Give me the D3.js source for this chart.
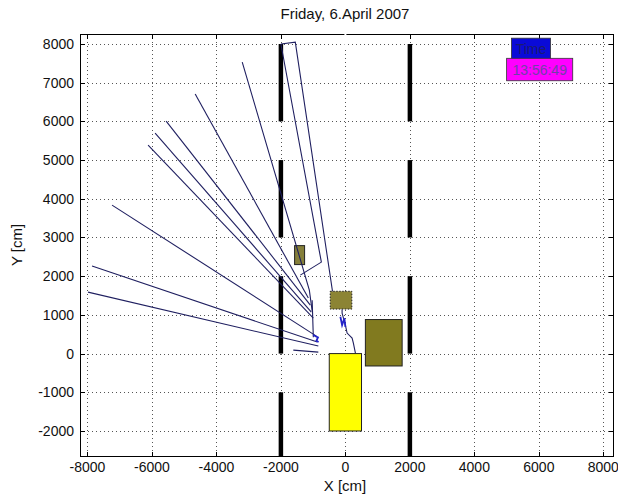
<!DOCTYPE html>
<html>
<head>
<meta charset="utf-8">
<script src="https://cdn.jsdelivr.net/npm/d3@7"></script>
<style>
  body { margin: 0; background: #fff; }
  svg { font-family: "Liberation Sans", Arial, sans-serif; }
</style>
</head>
<body>
<svg id="visualisation" width="618" height="498"></svg>
<script>
// tick values and labels
var xTicks = [-8000, -6000, -4000, -2000, 0, 2000, 4000, 6000, 8000];
var yTicks = [-2000, -1000, 0, 1000, 2000, 3000, 4000, 5000, 6000, 7000, 8000];
var titleText = "Friday, 6.April 2007";
var xLabel = "X [cm]";
var yLabel = "Y [cm]";
var timeLabel = "Time";
var clockLabel = "13:56:49";

// lane markers: x positions and dashed segments [yStart, yEnd]
var laneX = [-2000, 2000];
var laneSegments = [[8000, 6000], [5000, 3000], [2000, 0], [-1000, -3000]];

// obstacles [x0, x1, y0, y1]
var yellowBox = [-500, 500, -2000, 0];
var oliveBig = [620, 1760, -320, 880];
var oliveDotted = [-470, 200, 1150, 1610];
var oliveSmall = [-1575, -1265, 2300, 2790];

// annotation boxes [x0, x1, y0, y1]
var timeBox = [5150, 6360, 7600, 8150];
var clockBox = [5000, 7050, 7050, 7630];

// tracks (dark lines)
var fanTracks = [
  [[-7981, 1589], [-839, 194]],
  [[-7857, 2261], [-870, 297]],
  [[-7236, 3837], [-900, 452]],
  [[-6118, 5388], [-994, 917]],
  [[-5901, 5698], [-1056, 1072]],
  [[-5559, 6008], [-1087, 1253]],
  [[-4658, 6705], [-1149, 1434]],
  [[-3199, 7532], [-1118, 1641], [-1030, 1100]],
  [[-1030, 1376], [-994, 420]],
  [[-2000, 8000], [-1553, 8049], [-400, 1610]],
  [[-2000, 8000], [-745, 2364], [-1398, 2028]],
  [[-102, 1142], [-102, 1047], [0, 736], [53, 530], [208, 401], [248, 271], [311, 13]],
  [[-1615, 90], [-839, 39]]
];
// brighter blue fragments
var blueTracks = [
  [[-155, 951], [-102, 736], [-31, 910], [0, 693]],
  [[-1000, 480], [-850, 420], [-900, 330], [-830, 300]]
];
// white marker crossing the top edge
var whiteMarker = [[0, 7850], [0, 8600]];

var vis = d3.select("#visualisation"),
    LEFT = 80, RIGHT = 614, TOP = 34, BOTTOM = 457;

var xScale = d3.scaleLinear().domain([-8230, 8330]).range([LEFT, RIGHT]);
var yScale = d3.scaleLinear().domain([-2672, 8258]).range([BOTTOM, TOP]);

vis.append("rect").attr("x", 0).attr("y", 0).attr("width", 618).attr("height", 498).attr("fill", "#fff");
vis.append("rect").attr("x", LEFT).attr("y", TOP).attr("width", RIGHT - LEFT).attr("height", BOTTOM - TOP).attr("fill", "#fff");

vis.append("clipPath").attr("id", "plotclip")
  .append("rect").attr("x", LEFT).attr("y", TOP).attr("width", RIGHT - LEFT).attr("height", BOTTOM - TOP);

// dotted grid
var grid = vis.append("g").attr("stroke", "#555").attr("stroke-width", 1).attr("stroke-dasharray", "1,3");
grid.selectAll(".gx").data(xTicks).enter().append("line")
  .attr("x1", function(d) { return Math.round(xScale(d)) + 0.5; })
  .attr("x2", function(d) { return Math.round(xScale(d)) + 0.5; })
  .attr("y1", TOP).attr("y2", BOTTOM);
grid.selectAll(".gy").data(yTicks).enter().append("line")
  .attr("y1", function(d) { return Math.round(yScale(d)) + 0.5; })
  .attr("y2", function(d) { return Math.round(yScale(d)) + 0.5; })
  .attr("x1", LEFT).attr("x2", RIGHT);

var plot = vis.append("g").attr("clip-path", "url(#plotclip)");

// lane markers
laneX.forEach(function(lx) {
  plot.selectAll(null).data(laneSegments).enter().append("line")
    .attr("x1", xScale(lx)).attr("x2", xScale(lx))
    .attr("y1", function(d) { return yScale(d[0]); })
    .attr("y2", function(d) { return yScale(d[1]); })
    .attr("stroke", "#000").attr("stroke-width", 4.5);
});

function boxRect(b, fill, dash) {
  plot.append("rect")
    .attr("x", xScale(b[0])).attr("y", yScale(b[3]))
    .attr("width", xScale(b[1]) - xScale(b[0]))
    .attr("height", yScale(b[2]) - yScale(b[3]))
    .attr("fill", fill).attr("stroke", "#222").attr("stroke-width", 1)
    .attr("stroke-dasharray", dash || null);
}
boxRect(yellowBox, "#ffff00");
boxRect(oliveBig, "#817a1f");
boxRect(oliveDotted, "#8c8434", "1.5,1.5");
boxRect(oliveSmall, "#857f3a");

var line = d3.line().x(function(d) { return xScale(d[0]); }).y(function(d) { return yScale(d[1]); });

plot.selectAll(".track").data(fanTracks).enter().append("path")
  .attr("d", line).attr("fill", "none")
  .attr("stroke", "#1f1f60").attr("stroke-width", 1.1);

plot.selectAll(".btrack").data(blueTracks).enter().append("path")
  .attr("d", line).attr("fill", "none")
  .attr("stroke", "#2323c8").attr("stroke-width", 1.8);

// axes box and inward ticks
var axes = vis.append("g").attr("stroke", "#000").attr("stroke-width", 1);
axes.append("rect").attr("x", LEFT + 0.5).attr("y", TOP + 0.5)
  .attr("width", RIGHT - LEFT - 1).attr("height", BOTTOM - TOP - 1).attr("fill", "none");
xTicks.forEach(function(t) {
  var px = Math.round(xScale(t)) + 0.5;
  axes.append("line").attr("x1", px).attr("x2", px).attr("y1", BOTTOM).attr("y2", BOTTOM - 5);
  axes.append("line").attr("x1", px).attr("x2", px).attr("y1", TOP).attr("y2", TOP + 5);
});
yTicks.forEach(function(t) {
  var py = Math.round(yScale(t)) + 0.5;
  axes.append("line").attr("y1", py).attr("y2", py).attr("x1", LEFT).attr("x2", LEFT + 5);
  axes.append("line").attr("y1", py).attr("y2", py).attr("x1", RIGHT).attr("x2", RIGHT - 5);
});

vis.append("path").datum(whiteMarker).attr("d", line)
  .attr("stroke", "#fff").attr("stroke-width", 2).attr("fill", "none");

// tick labels
vis.selectAll(".xl").data(xTicks).enter().append("text")
  .attr("x", function(d) { return xScale(d); }).attr("y", 472)
  .attr("text-anchor", "middle").attr("font-size", 14).attr("fill", "#111")
  .text(function(d) { return d; });
vis.selectAll(".yl").data(yTicks).enter().append("text")
  .attr("x", 74).attr("y", function(d) { return yScale(d) + 5; })
  .attr("text-anchor", "end").attr("font-size", 14).attr("fill", "#111")
  .text(function(d) { return d; });

vis.append("text").attr("x", 345).attr("y", 19).attr("text-anchor", "middle")
  .attr("font-size", 15).attr("fill", "#111").text(titleText);
vis.append("text").attr("x", 345).attr("y", 491).attr("text-anchor", "middle")
  .attr("font-size", 15).attr("fill", "#111").text(xLabel);
vis.append("text").attr("transform", "translate(22,245) rotate(-90)").attr("text-anchor", "middle")
  .attr("font-size", 15).attr("fill", "#111").text(yLabel);

// annotation boxes
function labelBox(b, fill, color, txt) {
  vis.append("rect")
    .attr("x", xScale(b[0])).attr("y", yScale(b[3]))
    .attr("width", xScale(b[1]) - xScale(b[0]))
    .attr("height", yScale(b[2]) - yScale(b[3]))
    .attr("fill", fill).attr("stroke", "#333").attr("stroke-width", 0.8);
  vis.append("text")
    .attr("x", (xScale(b[0]) + xScale(b[1])) / 2)
    .attr("y", (yScale(b[2]) + yScale(b[3])) / 2 + 5)
    .attr("text-anchor", "middle").attr("font-size", 14).attr("fill", color)
    .text(txt);
}
labelBox(timeBox, "#0a0ad8", "#1a1a70", timeLabel);
labelBox(clockBox, "#ff00ff", "#7040a8", clockLabel);
</script>
</body>
</html>
